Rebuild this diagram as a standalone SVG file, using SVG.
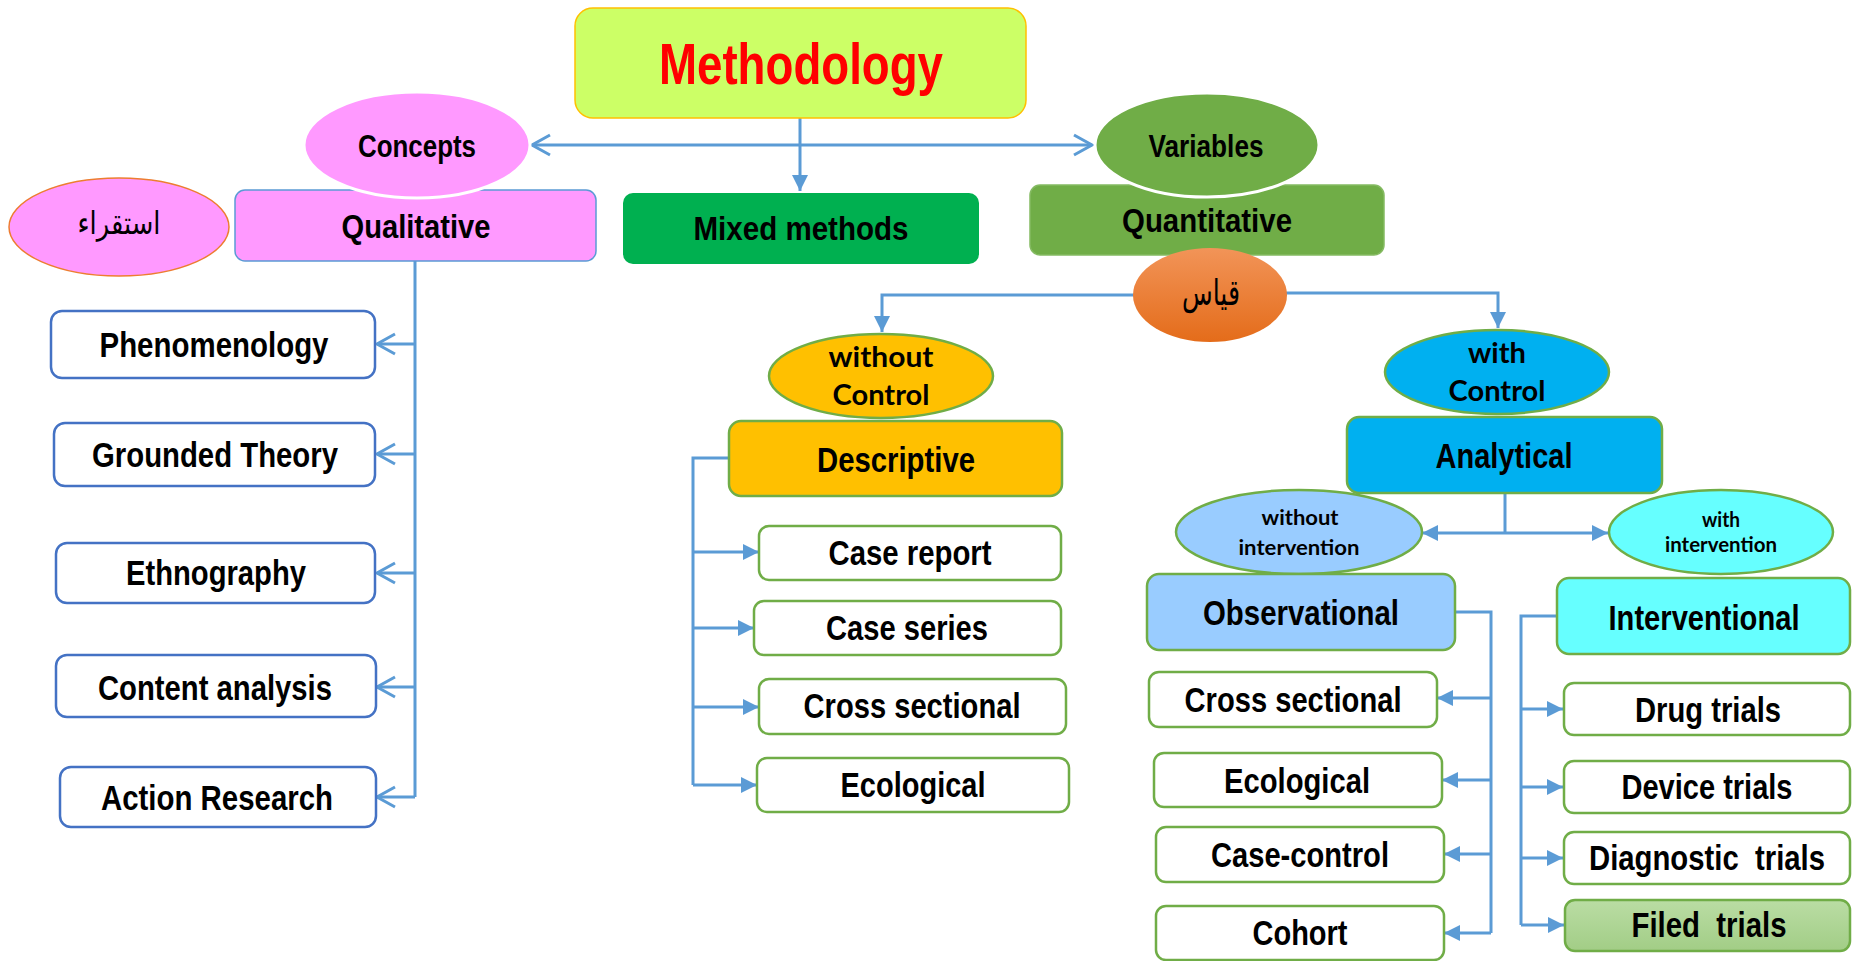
<svg xmlns="http://www.w3.org/2000/svg" width="1852" height="961" viewBox="0 0 1852 961">
<style>
.n{font-family:"Liberation Sans",Arial,sans-serif;font-weight:bold;font-size:35px;text-anchor:middle;fill:#000}
.c{font-family:Lato,"Open Sans",sans-serif;font-weight:bold;font-size:28px;text-anchor:middle;fill:#000}
.ci{font-family:Lato,"Open Sans",sans-serif;font-weight:bold;font-size:21px;text-anchor:middle;fill:#000}
.ar{font-family:"DejaVu Sans",sans-serif;font-size:32px;text-anchor:middle;fill:#000}
.bl{fill:#fff;stroke:#4472C4;stroke-width:2.5}
.gr{fill:#fff;stroke:#70AD47;stroke-width:2.5}
.ln{fill:none;stroke:#5B9BD5;stroke-width:3}
</style>
<defs>
<marker id="open" markerUnits="userSpaceOnUse" markerWidth="24" markerHeight="24" viewBox="-20 -12 24 24" refX="0" refY="0" orient="auto-start-reverse">
<path d="M-18,-10 L0,0 L-18,10" fill="none" stroke="#5B9BD5" stroke-width="3"/>
</marker>
<marker id="fill" markerUnits="userSpaceOnUse" markerWidth="20" markerHeight="20" viewBox="-18 -10 20 20" refX="0" refY="0" orient="auto">
<path d="M-16,-8 L0,0 L-16,8 Z" fill="#5B9BD5"/>
</marker>
<linearGradient id="gOr" x1="0" y1="0" x2="0" y2="1">
<stop offset="0" stop-color="#F29458"/><stop offset="1" stop-color="#E46C1A"/>
</linearGradient>
<linearGradient id="gGr" x1="0" y1="0" x2="0" y2="1">
<stop offset="0" stop-color="#BADDA4"/><stop offset="1" stop-color="#A2CD86"/>
</linearGradient>
</defs>

<g id="connectors">
<line class="ln" x1="532" y1="145" x2="1092" y2="145" marker-start="url(#open)" marker-end="url(#open)"/>
<line class="ln" x1="800" y1="118" x2="800" y2="191" marker-end="url(#fill)"/>
<path class="ln" d="M415,261 V797"/>
<line class="ln" x1="415" y1="344" x2="377" y2="344" marker-end="url(#open)"/>
<line class="ln" x1="415" y1="454" x2="377" y2="454" marker-end="url(#open)"/>
<line class="ln" x1="415" y1="573" x2="377" y2="573" marker-end="url(#open)"/>
<line class="ln" x1="415" y1="687" x2="377" y2="687" marker-end="url(#open)"/>
<path class="ln" d="M415,797 H377" marker-end="url(#open)"/>
<path class="ln" d="M1140,295 H882 V332" marker-end="url(#fill)"/>
<path class="ln" d="M1283,293 H1498 V328" marker-end="url(#fill)"/>
<path class="ln" d="M729,458 H693 V785"/>
<line class="ln" x1="693" y1="552" x2="759" y2="552" marker-end="url(#fill)"/>
<line class="ln" x1="693" y1="628" x2="754" y2="628" marker-end="url(#fill)"/>
<line class="ln" x1="693" y1="707" x2="759" y2="707" marker-end="url(#fill)"/>
<line class="ln" x1="693" y1="785" x2="757" y2="785" marker-end="url(#fill)"/>
<path class="ln" d="M1505,493 V533"/>
<line class="ln" x1="1505" y1="533" x2="1422" y2="533" marker-end="url(#fill)"/>
<line class="ln" x1="1505" y1="533" x2="1608" y2="533" marker-end="url(#fill)"/>
<path class="ln" d="M1455,612 H1491 V933"/>
<line class="ln" x1="1491" y1="698" x2="1437" y2="698" marker-end="url(#fill)"/>
<line class="ln" x1="1491" y1="780" x2="1442" y2="780" marker-end="url(#fill)"/>
<line class="ln" x1="1491" y1="854" x2="1444" y2="854" marker-end="url(#fill)"/>
<line class="ln" x1="1491" y1="933" x2="1444" y2="933" marker-end="url(#fill)"/>
<path class="ln" d="M1557,616 H1521 V925"/>
<line class="ln" x1="1521" y1="709" x2="1563" y2="709" marker-end="url(#fill)"/>
<line class="ln" x1="1521" y1="787" x2="1563" y2="787" marker-end="url(#fill)"/>
<line class="ln" x1="1521" y1="858" x2="1563" y2="858" marker-end="url(#fill)"/>
<line class="ln" x1="1521" y1="925" x2="1564" y2="925" marker-end="url(#fill)"/>
</g>

<g id="methodology">
<rect x="575" y="8" width="451" height="110" rx="18" fill="#CCFF66" stroke="#FFC000" stroke-width="1.5"/>
<text class="n" x="801" y="84" style="font-size:58px;fill:#FF0000" textLength="284" lengthAdjust="spacingAndGlyphs">Methodology</text>
</g>

<g id="qualitative">
<rect x="235" y="190" width="361" height="71" rx="10" fill="#FF99FF" stroke="#5B9BD5" stroke-width="1.5"/>
<text class="n" x="416" y="238" style="font-size:34px" textLength="149" lengthAdjust="spacingAndGlyphs">Qualitative</text>
</g>
<g id="concepts">
<ellipse cx="417" cy="145" rx="113" ry="53" fill="#FF99FF" stroke="#fff" stroke-width="3"/>
<text class="n" x="417" y="157" style="font-size:32px" textLength="118" lengthAdjust="spacingAndGlyphs">Concepts</text>
</g>
<g id="istiqra">
<ellipse cx="119" cy="227" rx="110" ry="49" fill="#FF99FF" stroke="#ED7D31" stroke-width="1.5"/>
<text class="ar" x="119" y="234" textLength="83" lengthAdjust="spacingAndGlyphs">استقراء</text>
</g>

<g id="mixed">
<rect x="623" y="193" width="356" height="71" rx="10" fill="#00B050"/>
<text class="n" x="801" y="240" style="font-size:34px" textLength="215" lengthAdjust="spacingAndGlyphs">Mixed methods</text>
</g>

<g id="quantitative">
<rect x="1030" y="185" width="354" height="70" rx="10" fill="#70AD47" stroke="#84BA62" stroke-width="1.5"/>
<text class="n" x="1207" y="232" style="font-size:34px" textLength="170" lengthAdjust="spacingAndGlyphs">Quantitative</text>
</g>
<g id="variables">
<ellipse cx="1207" cy="145" rx="112" ry="52" fill="#70AD47" stroke="#fff" stroke-width="3"/>
<text class="n" x="1206" y="157" style="font-size:32px" textLength="115" lengthAdjust="spacingAndGlyphs">Variables</text>
</g>
<g id="qiyas">
<ellipse cx="1210" cy="295" rx="77" ry="47" fill="url(#gOr)"/>
<text class="ar" x="1211" y="305" style="font-size:36px" textLength="58" lengthAdjust="spacingAndGlyphs">قياس</text>
</g>

<g id="phenomenology">
<rect class="bl" x="51" y="311" width="324" height="67" rx="11"/>
<text class="n" x="214" y="357" textLength="229" lengthAdjust="spacingAndGlyphs">Phenomenology</text>
</g>
<g id="grounded">
<rect class="bl" x="54" y="423" width="321" height="63" rx="11"/>
<text class="n" x="215" y="467" textLength="246" lengthAdjust="spacingAndGlyphs">Grounded Theory</text>
</g>
<g id="ethnography">
<rect class="bl" x="56" y="543" width="319" height="60" rx="11"/>
<text class="n" x="216" y="585" textLength="180" lengthAdjust="spacingAndGlyphs">Ethnography</text>
</g>
<g id="content">
<rect class="bl" x="56" y="655" width="320" height="62" rx="11"/>
<text class="n" x="215" y="700" textLength="234" lengthAdjust="spacingAndGlyphs">Content analysis</text>
</g>
<g id="action">
<rect class="bl" x="60" y="767" width="316" height="60" rx="11"/>
<text class="n" x="217" y="810" textLength="232" lengthAdjust="spacingAndGlyphs">Action Research</text>
</g>

<g id="withoutControl">
<ellipse cx="881" cy="376" rx="112" ry="42" fill="#FFC000" stroke="#70AD47" stroke-width="2.5"/>
<text class="c" x="881" y="367" textLength="105" lengthAdjust="spacingAndGlyphs">without</text>
<text class="c" x="881" y="405" textLength="97" lengthAdjust="spacingAndGlyphs">Control</text>
</g>
<g id="descriptive">
<rect x="729" y="421" width="333" height="75" rx="12" fill="#FFC000" stroke="#70AD47" stroke-width="2.5"/>
<text class="n" x="896" y="472" textLength="158" lengthAdjust="spacingAndGlyphs">Descriptive</text>
</g>
<g id="caseReport">
<rect class="gr" x="759" y="526" width="302" height="54" rx="10"/>
<text class="n" x="910" y="565" textLength="163" lengthAdjust="spacingAndGlyphs">Case report</text>
</g>
<g id="caseSeries">
<rect class="gr" x="754" y="601" width="307" height="54" rx="10"/>
<text class="n" x="907" y="640" textLength="162" lengthAdjust="spacingAndGlyphs">Case series</text>
</g>
<g id="crossDesc">
<rect class="gr" x="759" y="679" width="307" height="55" rx="10"/>
<text class="n" x="912" y="718" textLength="217" lengthAdjust="spacingAndGlyphs">Cross sectional</text>
</g>
<g id="ecoDesc">
<rect class="gr" x="757" y="758" width="312" height="54" rx="10"/>
<text class="n" x="913" y="797" textLength="145" lengthAdjust="spacingAndGlyphs">Ecological</text>
</g>

<g id="withControl">
<ellipse cx="1497" cy="372" rx="112" ry="42" fill="#00B0F0" stroke="#70AD47" stroke-width="2.5"/>
<text class="c" x="1497" y="363" textLength="58" lengthAdjust="spacingAndGlyphs">with</text>
<text class="c" x="1497" y="401" textLength="97" lengthAdjust="spacingAndGlyphs">Control</text>
</g>
<g id="analytical">
<rect x="1347" y="417" width="315" height="76" rx="12" fill="#00B0F0" stroke="#70AD47" stroke-width="2.5"/>
<text class="n" x="1504" y="468" textLength="137" lengthAdjust="spacingAndGlyphs">Analytical</text>
</g>
<g id="withoutIntervention">
<ellipse cx="1299" cy="532" rx="123" ry="42" fill="#99CCFF" stroke="#70AD47" stroke-width="2.5"/>
<text class="ci" x="1300" y="525" textLength="77" lengthAdjust="spacingAndGlyphs">without</text>
<text class="ci" x="1299" y="555" textLength="121" lengthAdjust="spacingAndGlyphs">intervention</text>
</g>
<g id="withIntervention">
<ellipse cx="1721" cy="532" rx="112" ry="42" fill="#66FFFF" stroke="#70AD47" stroke-width="2.5"/>
<text class="ci" x="1721" y="527" textLength="38" lengthAdjust="spacingAndGlyphs">with</text>
<text class="ci" x="1721" y="552" textLength="112" lengthAdjust="spacingAndGlyphs">intervention</text>
</g>
<g id="observational">
<rect x="1147" y="574" width="308" height="76" rx="12" fill="#99CCFF" stroke="#70AD47" stroke-width="2.5"/>
<text class="n" x="1301" y="625" textLength="196" lengthAdjust="spacingAndGlyphs">Observational</text>
</g>
<g id="interventional">
<rect x="1557" y="578" width="293" height="76" rx="12" fill="#66FFFF" stroke="#70AD47" stroke-width="2.5"/>
<text class="n" x="1704" y="630" textLength="191" lengthAdjust="spacingAndGlyphs">Interventional</text>
</g>
<g id="crossObs">
<rect class="gr" x="1149" y="672" width="288" height="55" rx="10"/>
<text class="n" x="1293" y="712" textLength="217" lengthAdjust="spacingAndGlyphs">Cross sectional</text>
</g>
<g id="ecoObs">
<rect class="gr" x="1154" y="753" width="288" height="54" rx="10"/>
<text class="n" x="1297" y="793" textLength="146" lengthAdjust="spacingAndGlyphs">Ecological</text>
</g>
<g id="caseControl">
<rect class="gr" x="1156" y="827" width="288" height="55" rx="10"/>
<text class="n" x="1300" y="867" textLength="178" lengthAdjust="spacingAndGlyphs">Case-control</text>
</g>
<g id="cohort">
<rect class="gr" x="1156" y="906" width="288" height="54" rx="10"/>
<text class="n" x="1300" y="945" textLength="95" lengthAdjust="spacingAndGlyphs">Cohort</text>
</g>
<g id="drug">
<rect class="gr" x="1564" y="683" width="286" height="52" rx="10"/>
<text class="n" x="1708" y="722" textLength="146" lengthAdjust="spacingAndGlyphs">Drug trials</text>
</g>
<g id="device">
<rect class="gr" x="1564" y="761" width="286" height="52" rx="10"/>
<text class="n" x="1707" y="799" textLength="171" lengthAdjust="spacingAndGlyphs">Device trials</text>
</g>
<g id="diagnostic">
<rect class="gr" x="1564" y="832" width="286" height="52" rx="10"/>
<text class="n" x="1707" y="870" textLength="236" lengthAdjust="spacingAndGlyphs" xml:space="preserve">Diagnostic  trials</text>
</g>
<g id="filed">
<rect x="1565" y="900" width="285" height="51" rx="10" fill="url(#gGr)" stroke="#70AD47" stroke-width="2.5"/>
<text class="n" x="1709" y="937" textLength="155" lengthAdjust="spacingAndGlyphs" xml:space="preserve">Filed  trials</text>
</g>
</svg>
